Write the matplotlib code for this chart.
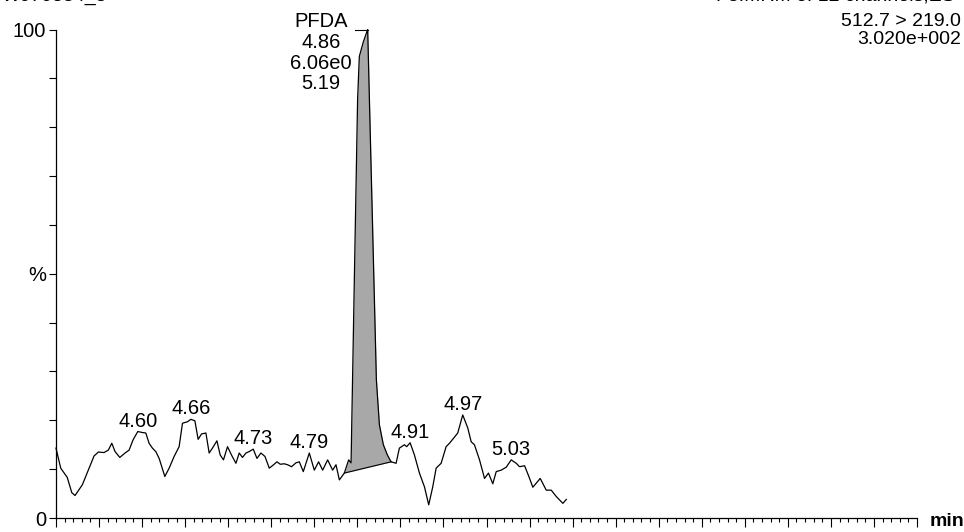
import numpy as np
import matplotlib
matplotlib.use('Agg')
from matplotlib import pyplot as plt
from matplotlib.ticker import MultipleLocator

plt.rcParams['font.family'] = ['Liberation Sans', 'DejaVu Sans']

# chromatogram trace (retention time in min, relative intensity in %)
rt = [4.5000, 4.5055, 4.5131, 4.5183, 4.5221, 4.5306, 4.5442, 4.5492, 4.5558, 4.5608,
      4.5648, 4.5686, 4.5741, 4.5802, 4.5849, 4.5895, 4.5950, 4.6003, 4.6043, 4.6081,
      4.6120, 4.6159, 4.6198, 4.6264, 4.6314, 4.6372, 4.6430, 4.6469, 4.6527, 4.6566,
      4.6613, 4.6651, 4.6690, 4.6741, 4.6779, 4.6817, 4.6869, 4.6907, 4.6945, 4.6992,
      4.7038, 4.7090, 4.7128, 4.7166, 4.7206, 4.7244, 4.7291, 4.7334, 4.7380, 4.7427,
      4.7477, 4.7527, 4.7566, 4.7605, 4.7651, 4.7690, 4.7736, 4.7787, 4.7826, 4.7872,
      4.7942, 4.8000, 4.8050, 4.8097, 4.8155, 4.8213, 4.8252, 4.8291, 4.8349, 4.8399,
      4.8427, 4.8465, 4.8503, 4.8523, 4.8570, 4.8620, 4.8640, 4.8669, 4.8698, 4.8721,
      4.8756, 4.8802, 4.8849, 4.8892, 4.8950, 4.8988, 4.9047, 4.9073, 4.9113, 4.9163,
      4.9221, 4.9279, 4.9329, 4.9376, 4.9415, 4.9473, 4.9531, 4.9570, 4.9616, 4.9666,
      4.9724, 4.9783, 4.9822, 4.9860, 4.9919, 4.9977, 5.0023, 5.0073, 5.0113, 5.0171,
      5.0229, 5.0287, 5.0345, 5.0384, 5.0442, 5.0492, 5.0538, 5.0624, 5.0694, 5.0752,
      5.0810, 5.0887, 5.0927]
intensity = [14.3, 10.2, 8.3, 5.2, 4.6, 6.8, 12.7, 13.5, 13.4, 13.9,
             15.3, 13.6, 12.4, 13.3, 13.9, 16.0, 17.7, 17.5, 17.4, 15.3,
             14.3, 13.6, 12.2, 8.5, 10.2, 12.6, 14.6, 19.4, 19.7, 20.2,
             19.9, 16.1, 17.2, 17.4, 13.3, 14.3, 15.8, 12.9, 11.9, 14.6,
             12.9, 11.2, 13.3, 12.4, 13.3, 13.6, 14.1, 12.2, 13.3, 12.6,
             10.2, 10.9, 11.5, 11.0, 11.1, 10.9, 10.5, 11.3, 11.5, 9.5,
             13.3, 9.8, 11.5, 9.8, 11.9, 9.8, 10.9, 7.8, 9.2, 11.9,
             11.3, 48.8, 85.7, 94.5, 97.5, 100.0, 85.7, 65.2, 44.7, 28.3,
             19.1, 15.0, 12.9, 11.5, 11.2, 14.3, 15.0, 14.6, 15.4, 12.9,
             9.2, 6.4, 2.7, 6.4, 10.2, 11.2, 14.6, 15.3, 16.3, 17.4,
             21.1, 18.4, 15.6, 15.0, 11.9, 8.1, 9.2, 7.0, 9.5, 9.8,
             10.4, 11.9, 11.2, 10.5, 10.7, 8.5, 6.3, 8.1, 5.7, 5.7,
             4.4, 3.0, 3.8]

# labelled minor peaks
label_rts = [4.60, 4.66, 4.73, 4.79, 4.91, 4.97, 5.03]

# integrated peak
peak_name = 'PFDA'
peak_info = ['4.86', '6.06e0', '5.19']
int_start = 4.8349
int_end = 4.8892

header_left = 'W070834_5'
header_right = ['F3:MRM of 12 channels,ES-', '512.7 > 219.0', '3.020e+002']

rt = np.array(rt)
intensity = np.array(intensity)

fig = plt.figure(figsize=(9.64, 5.32), dpi=100)
ax = fig.add_axes([56 / 964, 14 / 532, 861 / 964, 488.5 / 532])

# integrated area with straight baseline
mask = (rt >= int_start - 1e-6) & (rt <= int_end + 1e-6)
y0 = np.interp(int_start, rt, intensity)
y1 = np.interp(int_end, rt, intensity)
base = y0 + (rt[mask] - int_start) / (int_end - int_start) * (y1 - y0)
ax.fill_between(rt[mask], base, intensity[mask], color='#a8a8a8', lw=0)
ax.plot([int_start, int_end], [y0, y1], color='black', lw=0.8)

ax.plot(rt, intensity, color='black', lw=0.9, clip_on=False)

# minor peak labels at the local apex
for r in label_rts:
    win = np.abs(rt - r) <= 0.0065
    i = np.argmax(np.where(win, intensity, -1))
    ax.annotate(f'{r:.2f}', (rt[i], intensity[i]), xytext=(0, 3.5),
                textcoords='offset points', ha='center', va='baseline', fontsize=14.5)

# main peak label with leader line
apex = np.argmax(intensity)
ax.plot([rt[apex] - 0.0143, rt[apex]], [100, 100], color='black', lw=0.8, clip_on=False)
ax.text(4.8081, 103.6, '\n'.join([peak_name] + peak_info), ha='center', va='top',
        fontsize=14.5, linespacing=1.12, clip_on=False)

ax.set_xlim(4.50, 5.50)
ax.set_ylim(0, 100)
ax.spines['top'].set_visible(False)
ax.spines['right'].set_visible(False)
ax.spines['left'].set_linewidth(0.9)
ax.spines['bottom'].set_linewidth(0.9)

ax.xaxis.set_major_locator(MultipleLocator(0.05))
ax.xaxis.set_minor_locator(MultipleLocator(0.01))
ax.tick_params(axis='x', which='major', length=6.5, width=0.8, labelbottom=False)
ax.tick_params(axis='x', which='minor', length=3, width=0.8)

ax.set_yticks(np.arange(0, 101, 10))
ax.set_yticklabels(['0', '', '', '', '', '%', '', '', '', '', '100'], fontsize=14.5)
ax.tick_params(axis='y', length=5, width=0.8, pad=2)

fig.text(930 / 964, 10 / 532, 'min', ha='left', va='center', fontsize=14, fontweight='bold')

# header lines (top one cut by the page edge)
fig.text(961 / 964, 1 + 4 / 532, header_right[0], ha='right', va='center', fontsize=14)
fig.text(961 / 964, 1 - 21 / 532, header_right[1], ha='right', va='center', fontsize=14)
fig.text(961 / 964, 1 - 39 / 532, header_right[2], ha='right', va='center', fontsize=14)
fig.text(2 / 964, 1 + 4 / 532, header_left, ha='left', va='center', fontsize=14)

plt.savefig('out.png', dpi=100)
